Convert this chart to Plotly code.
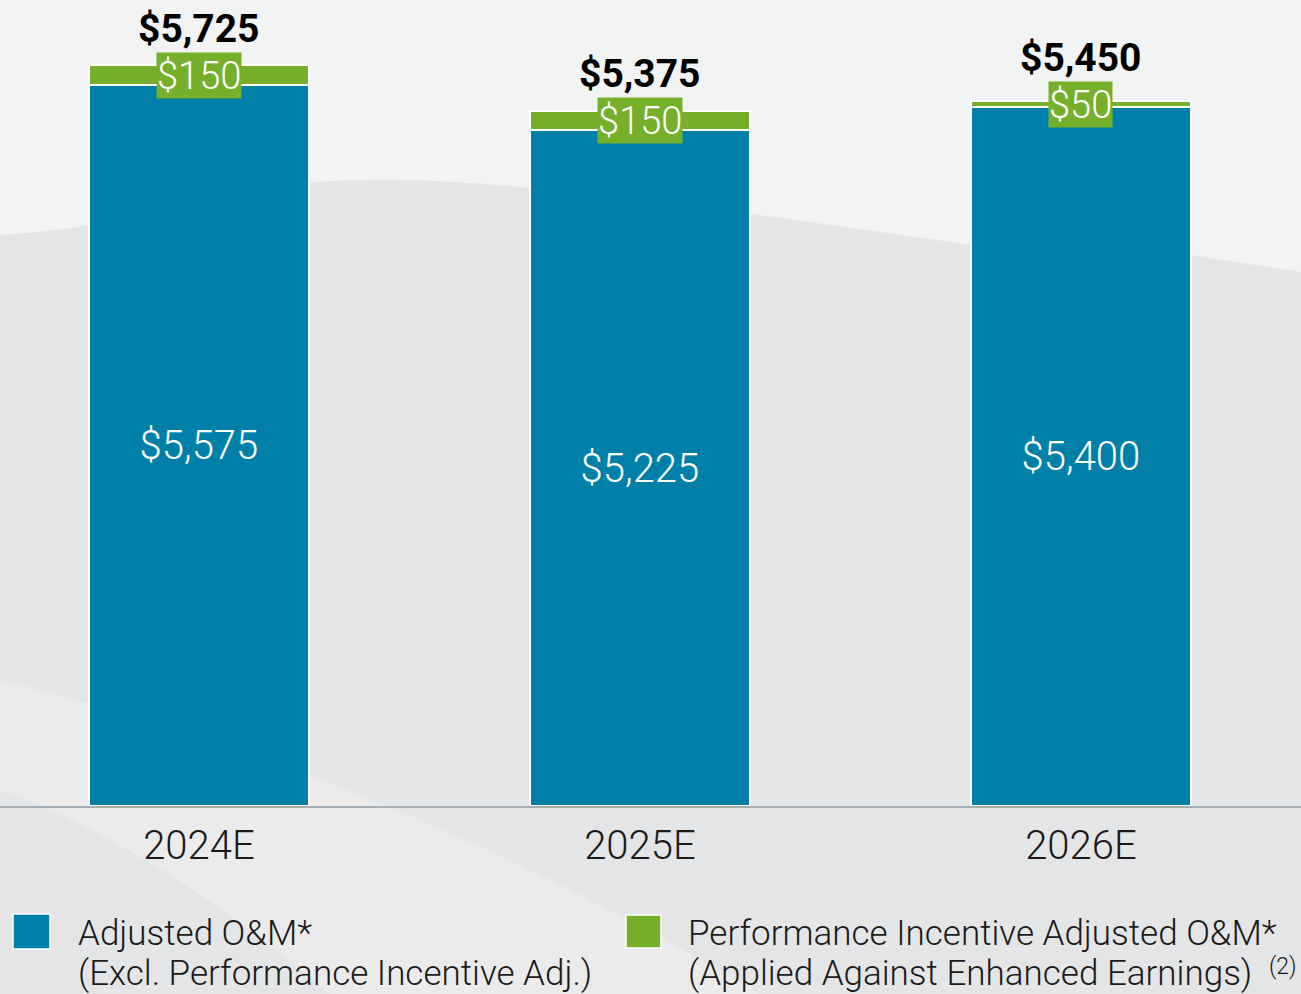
import plotly.graph_objects as go

categories = ["2024E", "2025E", "2026E"]
adjusted_om = [5575, 5225, 5400]
performance_incentive = [150, 150, 50]
totals = [5725, 5375, 5450]

legend_lines = [
    ["Adjusted O&M*", "(Excl. Performance Incentive Adj.)"],
    ["Performance Incentive Adjusted O&M*",
     "(Applied Against Enhanced Earnings)"],
]
legend_footnote = "(2)"

BLUE = "#0080A8"
GREEN = "#76B02A"
FONT = "Roboto"

W, H = 1301, 994
PLOT_BOTTOM = 806  # px from top


def px(x):
    return x / W


def py(y):
    return (PLOT_BOTTOM - y) / PLOT_BOTTOM


fig = go.Figure()
fig.add_trace(go.Bar(
    x=categories, y=adjusted_om, name="Adjusted O&M*",
    marker=dict(color=BLUE, line=dict(color="white", width=2)),
    width=0.5,
    text=[f"${v:,}" for v in adjusted_om], textposition="inside",
    insidetextanchor="middle",
    textfont=dict(family=FONT, size=40, color="white", weight=300),
    showlegend=False,
))
fig.add_trace(go.Bar(
    x=categories, y=performance_incentive, name="Performance Incentive",
    marker=dict(color=GREEN, line=dict(color="white", width=2)),
    width=0.5, showlegend=False,
))

annotations = []
for c, b, g, t in zip(categories, adjusted_om, performance_incentive, totals):
    annotations.append(dict(
        x=c, y=b + g / 2, xref="x", yref="y", text=f"${g:,}", showarrow=False,
        font=dict(family=FONT, size=38, color="white", weight=300),
        bgcolor=GREEN, borderpad=0, height=45, yanchor="middle",
    ))
    # total label sits just above the green value box
    annotations.append(dict(
        x=c, y=b + g / 2, xref="x", yref="y", text=f"<b>${t:,}</b>", showarrow=False,
        font=dict(family=FONT, size=39, color="black"),
        yanchor="middle", yshift=46,
    ))

shapes = []
# background swoosh approximations
shapes.append(dict(
    type="path", xref="paper", yref="paper", layer="below",
    path=(f"M 0,{py(0)} L 1,{py(0)} L 1,{py(272)} "
          f"L {px(1190)},{py(255)} L {px(971)},{py(245)} "
          f"C {px(850)},{py(228)} {px(700)},{py(205)} {px(530)},{py(188)} "
          f"C {px(400)},{py(175)} {px(300)},{py(176)} {px(200)},{py(200)} "
          f"C {px(120)},{py(222)} {px(60)},{py(232)} 0,{py(235)} Z"),
    fillcolor="#f2f3f3", line=dict(width=0),
))
shapes.append(dict(
    type="path", xref="paper", yref="paper", layer="below",
    path=(f"M 0,{py(680)} C {px(250)},{py(740)} {px(500)},{py(840)} {px(760)},{py(994)} "
          f"L {px(330)},{py(994)} C {px(220)},{py(900)} {px(110)},{py(830)} 0,{py(790)} Z"),
    fillcolor="rgba(255,255,255,0.25)", line=dict(width=0),
))

legend_items = [
    (13, 50, 914, 949, BLUE, 78, legend_lines[0]),
    (626, 661, 915, 948, GREEN, 688, legend_lines[1]),
]
for x0, x1, y0, y1, col, tx, lines in legend_items:
    shapes.append(dict(
        type="rect", xref="paper", yref="paper",
        x0=px(x0), x1=px(x1), y0=py(y1), y1=py(y0),
        fillcolor=col, line=dict(color="white", width=1.5),
    ))
    for line, ly in zip(lines, [933, 973]):
        annotations.append(dict(
            x=px(tx - 2), y=py(ly), xref="paper", yref="paper", text=line,
            showarrow=False, xanchor="left", yanchor="middle", align="left",
            font=dict(family=FONT, size=35, color="#1a1a1a", weight=300),
        ))
annotations.append(dict(
    x=px(1299), y=py(966), xref="paper", yref="paper", text=legend_footnote,
    showarrow=False, xanchor="right", yanchor="middle",
    font=dict(family=FONT, size=23, color="#1a1a1a", weight=300),
))

fig.update_layout(
    width=W, height=H,
    margin=dict(l=0, r=0, t=0, b=H - PLOT_BOTTOM),
    barmode="stack",
    paper_bgcolor="#e4e5e6",
    plot_bgcolor="rgba(0,0,0,0)",
    annotations=annotations,
    shapes=shapes,
)
fig.update_xaxes(
    range=[-0.451, 2.499], showline=True, linecolor="#a6afb6", linewidth=2,
    showgrid=False, ticks="",
    tickfont=dict(family=FONT, size=40, color="#1a1a1a", weight=300),
    ticklabelstandoff=3,
)
fig.update_yaxes(range=[0, 6230], visible=False, showgrid=False)

fig.write_html("out.html", config={"displayModeBar": False},
               post_script="document.body.style.margin='0px';")
